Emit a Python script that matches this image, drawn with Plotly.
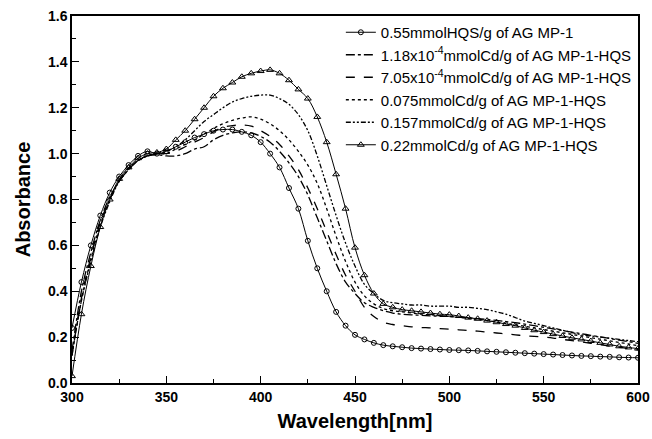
import plotly.graph_objects as go

wavelength = list(range(300, 601, 5))

hqs_055 = [0.24, 0.44, 0.60, 0.73, 0.83, 0.90, 0.95, 0.99, 1.01, 1.00,
           1.01, 1.03, 1.05, 1.07, 1.085, 1.10, 1.105, 1.105, 1.095, 1.08,
           1.05, 1.00, 0.94, 0.85, 0.76, 0.62, 0.50, 0.40, 0.31, 0.25,
           0.21, 0.19, 0.175, 0.165, 0.16, 0.156, 0.152, 0.15, 0.148, 0.146,
           0.144, 0.143, 0.142, 0.14, 0.138, 0.136, 0.134, 0.132, 0.13, 0.128,
           0.126, 0.124, 0.122, 0.12, 0.118, 0.117, 0.115, 0.114, 0.112, 0.111,
           0.11]

cd_118e4 = [0.14, 0.40, 0.57, 0.71, 0.81, 0.88, 0.93, 0.97, 0.99, 0.995,
            0.99, 0.99, 1.00, 1.02, 1.03, 1.06, 1.08, 1.09, 1.095, 1.09,
            1.075, 1.05, 1.01, 0.96, 0.90, 0.82, 0.72, 0.62, 0.52, 0.44,
            0.39, 0.35, 0.33, 0.315, 0.305, 0.30, 0.297, 0.295, 0.293, 0.291,
            0.29, 0.287, 0.284, 0.281, 0.277, 0.273, 0.268, 0.263, 0.257, 0.25,
            0.243, 0.236, 0.229, 0.222, 0.215, 0.208, 0.201, 0.194, 0.187, 0.18,
            0.173]

cd_705e4 = [0.12, 0.37, 0.55, 0.70, 0.80, 0.88, 0.93, 0.97, 0.99, 1.00,
            1.00, 1.01, 1.03, 1.05, 1.07, 1.095, 1.115, 1.122, 1.125, 1.12,
            1.10, 1.075, 1.04, 0.99, 0.93, 0.85, 0.76, 0.66, 0.56, 0.47,
            0.40, 0.33, 0.29, 0.265, 0.255, 0.25, 0.245, 0.242, 0.24, 0.237,
            0.235, 0.232, 0.229, 0.226, 0.222, 0.218, 0.214, 0.21, 0.206, 0.203,
            0.20, 0.196, 0.19, 0.185, 0.179, 0.173, 0.167, 0.161, 0.155, 0.15,
            0.145]

cd_0075 = [0.12, 0.36, 0.54, 0.69, 0.80, 0.88, 0.93, 0.97, 0.99, 1.00,
           1.00, 1.02, 1.04, 1.06, 1.085, 1.11, 1.13, 1.145, 1.155, 1.16,
           1.15, 1.13, 1.10, 1.06, 1.01, 0.95, 0.87, 0.76, 0.64, 0.53,
           0.44, 0.38, 0.345, 0.325, 0.315, 0.31, 0.305, 0.30, 0.297, 0.294,
           0.29, 0.286, 0.282, 0.277, 0.272, 0.266, 0.26, 0.254, 0.247, 0.24,
           0.233, 0.226, 0.219, 0.212, 0.205, 0.198, 0.191, 0.184, 0.177, 0.17,
           0.163]

cd_0157 = [0.12, 0.36, 0.53, 0.68, 0.79, 0.88, 0.935, 0.97, 0.99, 1.00,
           1.01, 1.03, 1.06, 1.10, 1.14, 1.17, 1.20, 1.225, 1.24, 1.25,
           1.255, 1.255, 1.24, 1.215, 1.17, 1.10, 0.99, 0.86, 0.73, 0.61,
           0.51, 0.43, 0.39, 0.36, 0.35, 0.345, 0.34, 0.34, 0.335, 0.335,
           0.335, 0.33, 0.33, 0.325, 0.32, 0.31, 0.30, 0.285, 0.27, 0.26,
           0.25, 0.24, 0.23, 0.22, 0.21, 0.205, 0.20, 0.195, 0.19, 0.185,
           0.18]

cd_022 = [0.03, 0.30, 0.51, 0.68, 0.80, 0.89, 0.94, 0.98, 1.00, 1.005,
          1.02, 1.06, 1.10, 1.15, 1.20, 1.25, 1.285, 1.31, 1.335, 1.35,
          1.36, 1.365, 1.35, 1.32, 1.28, 1.24, 1.16, 1.05, 0.91, 0.76,
          0.59, 0.47, 0.39, 0.345, 0.33, 0.32, 0.315, 0.31, 0.305, 0.30,
          0.298, 0.292, 0.285, 0.28, 0.272, 0.265, 0.257, 0.25, 0.24, 0.23,
          0.222, 0.213, 0.205, 0.197, 0.19, 0.183, 0.175, 0.168, 0.16, 0.155,
          0.15]

names = [
    "0.55mmolHQS/g of AG MP-1",
    "1.18x10<sup>-4</sup>mmolCd/g of AG MP-1-HQS",
    "7.05x10<sup>-4</sup>mmolCd/g of AG MP-1-HQS",
    "0.075mmolCd/g of AG MP-1-HQS",
    "0.157mmolCd/g of AG MP-1-HQS",
    "0.22mmolCd/g of AG MP-1-HQS",
]

FONT = "Liberation Sans, Arial, sans-serif"

fig = go.Figure()
fig.add_trace(go.Scatter(x=wavelength, y=hqs_055, name=names[0], mode="lines+markers",
                         line=dict(color="black", width=1, shape="spline"),
                         marker=dict(symbol="circle-open", size=5, color="black", line=dict(width=1))))
fig.add_trace(go.Scatter(x=wavelength, y=cd_118e4, name=names[1], mode="lines",
                         line=dict(color="black", width=1.3, dash="dashdot", shape="spline")))
fig.add_trace(go.Scatter(x=wavelength, y=cd_705e4, name=names[2], mode="lines",
                         line=dict(color="black", width=1.3, dash="dash", shape="spline")))
fig.add_trace(go.Scatter(x=wavelength, y=cd_0075, name=names[3], mode="lines",
                         line=dict(color="black", width=1.3, dash="dot", shape="spline")))
fig.add_trace(go.Scatter(x=wavelength, y=cd_0157, name=names[4], mode="lines",
                         line=dict(color="black", width=1.3, dash="5px,2px,2px,2px,2px,2px", shape="spline")))
fig.add_trace(go.Scatter(x=wavelength, y=cd_022, name=names[5], mode="lines+markers",
                         line=dict(color="black", width=1, shape="spline"),
                         marker=dict(symbol="triangle-up-open", size=6, color="black", line=dict(width=1))))

fig.update_layout(
    width=652, height=439,
    margin=dict(l=72, r=14, t=16, b=56, autoexpand=False),
    plot_bgcolor="white", paper_bgcolor="white",
    font=dict(family=FONT, color="black"),
    legend=dict(x=0.475, y=1.0, xanchor="left", yanchor="top",
                bgcolor="rgba(0,0,0,0)", borderwidth=0,
                font=dict(family=FONT, size=15, color="black"), tracegroupgap=0,
                itemwidth=30),
    showlegend=True,
)
fig.update_xaxes(range=[300, 600], dtick=50, tick0=300, automargin=False,
                 ticks="inside", ticklen=7, tickwidth=1.2, tickcolor="black",
                 minor=dict(ticks="inside", dtick=25, ticklen=4, tickcolor="black", tickwidth=1.2),
                 showline=True, linewidth=1.5, linecolor="black", mirror=True,
                 showgrid=False, zeroline=False,
                 tickfont=dict(family=FONT, size=14, color="black", weight="bold"),
                 title=dict(text="<b>Wavelength[nm]</b>", font=dict(family=FONT, size=20, color="black"), standoff=10))
fig.update_yaxes(range=[0, 1.6], dtick=0.2, tick0=0, tickformat=".1f", automargin=False,
                 ticks="inside", ticklen=7, tickwidth=1.2, tickcolor="black",
                 minor=dict(ticks="inside", dtick=0.1, ticklen=4, tickcolor="black", tickwidth=1.2),
                 showline=True, linewidth=1.5, linecolor="black", mirror=True,
                 showgrid=False, zeroline=False,
                 tickfont=dict(family=FONT, size=14, color="black", weight="bold"),
                 title=dict(text="<b>Absorbance</b>", font=dict(family=FONT, size=20, color="black"), standoff=12))

fig.write_html("out.html")
